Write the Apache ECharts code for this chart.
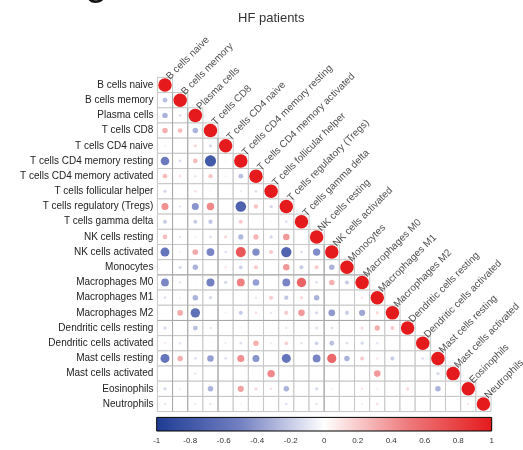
<!DOCTYPE html>
<html><head><meta charset="utf-8">
<script src="https://cdn.jsdelivr.net/npm/echarts@6/dist/echarts.min.js"></script>
<style>html,body{margin:0;padding:0;background:#fff}#c{width:523px;height:450px}</style>
</head><body><div id="c"></div>
<script>
const cellTypes = ["B cells naive","B cells memory","Plasma cells","T cells CD8","T cells CD4 naive",
  "T cells CD4 memory resting","T cells CD4 memory activated","T cells follicular helper",
  "T cells regulatory (Tregs)","T cells gamma delta","NK cells resting","NK cells activated",
  "Monocytes","Macrophages M0","Macrophages M1","Macrophages M2","Dendritic cells resting",
  "Dendritic cells activated","Mast cells resting","Mast cells activated","Eosinophils","Neutrophils"];

const row00 = [1];
const row01 = [-0.25, 1];
const row02 = [-0.3, -0.12, 1];
const row03 = [0.3, 0.25, -0.3, 1];
const row04 = [0.08, 0.03, 0.15, -0.15, 1];
const row05 = [-0.55, -0.12, 0.25, -0.78, -0.05, 1];
const row06 = [0.25, 0.12, -0.1, 0.22, 0.08, -0.25, 1];
const row07 = [-0.15, 0.02, 0.12, -0.05, 0.02, -0.08, -0.12, 1];
const row08 = [0.42, -0.1, -0.42, 0.45, 0.02, -0.72, 0.22, -0.15, 1];
const row09 = [-0.2, 0.02, -0.2, -0.22, 0.02, 0.2, 0.05, -0.05, -0.12, 1];
const row10 = [0.25, -0.1, 0.08, -0.12, 0.15, -0.28, 0.28, -0.15, 0.38, 0.03, 1];
const row11 = [-0.58, 0.08, 0.32, -0.48, -0.12, 0.68, -0.45, 0.2, -0.7, -0.12, -0.45, 1];
const row12 = [0.02, -0.15, -0.3, -0.05, 0.1, -0.18, 0.2, 0.05, 0.38, -0.2, 0.2, -0.3, 1];
const row13 = [-0.48, -0.1, 0.05, -0.5, -0.15, 0.48, -0.38, 0.03, -0.48, 0.62, -0.12, 0.3, -0.2, 1];
const row14 = [-0.12, 0.08, -0.3, -0.15, 0.03, 0.02, -0.1, 0.2, -0.22, 0.15, -0.3, 0.05, 0.05, 0.1, 1];
const row15 = [0.03, 0.32, -0.62, 0.05, 0.08, -0.2, 0.12, -0.1, 0.2, 0.38, -0.15, -0.4, -0.2, -0.35, 0.15, 1];
const row16 = [-0.15, 0.02, -0.25, -0.1, 0.02, 0.05, 0.05, 0.02, -0.1, 0.03, -0.12, -0.12, 0.03, 0.15, 0.3, 0.2, 1];
const row17 = [0.08, -0.1, 0.05, 0.03, -0.08, -0.12, 0.3, -0.08, 0.18, -0.1, -0.18, -0.25, -0.12, -0.15, -0.1, 0.03, 0.05, 1];
const row18 = [-0.58, 0.3, -0.12, -0.38, -0.12, 0.42, -0.42, 0.03, -0.58, -0.05, -0.48, 0.6, -0.3, 0.2, 0.1, -0.2, 0.02, -0.12, 1];
const row19 = [0.05, 0.02, -0.1, 0.02, 0.02, 0.03, -0.05, 0.45, 0.02, 0.02, 0.02, 0.02, 0.05, 0.02, 0.38, 0.02, 0.02, 0.03, -0.15, 1];
const row20 = [-0.15, -0.08, 0.03, -0.3, 0.02, 0.35, 0.15, 0.12, -0.3, 0.02, -0.15, 0.08, 0.05, 0.1, 0.08, 0.03, 0.15, 0.03, -0.3, 0.02, 1];
const row21 = [-0.1, 0.02, -0.08, -0.1, 0.02, -0.05, -0.05, 0.02, -0.12, 0.02, -0.1, 0.05, 0.05, 0.08, 0.12, 0.05, 0.03, 0.02, 0.03, 0.02, 0.1, 1];

// category indices after which a darker separator line is drawn
const colBreaks = [0, 1, 3, 10];
const rowBreaks = [12, 15];

const colorbarMin = -1, colorbarMax = 1, colorbarStep = 0.2;
const titleText = "HF patients";

const rows = [row00,row01,row02,row03,row04,row05,row06,row07,row08,row09,row10,
  row11,row12,row13,row14,row15,row16,row17,row18,row19,row20,row21];

const PALETTE = ['#1e3c94', '#7380c2', '#ffffff', '#ee7a7c', '#e41a1c'];
const N = cellTypes.length;
const corrData = [], cellData = [], diagData = [];
rows.forEach((r, i) => r.forEach((v, j) => {
  corrData.push([j, i, v]);
  cellData.push([j, i]);
  if (i === j) diagData.push({value: [j, i], name: cellTypes[i]});
}));
const breakData = colBreaks.map(c => ['v', c]).concat(rowBreaks.map(r => ['h', r]));

const chart = echarts.init(document.getElementById('c'), null, {renderer: 'canvas'});
chart.setOption({
  animation: false,
  backgroundColor: '#fff',
  textStyle: {fontFamily: 'Liberation Sans, Arial, sans-serif'},
  title: [
    {text: titleText, left: 238, top: 12, padding: 0,
     textStyle: {fontSize: 13, fontWeight: 'normal', color: '#333'}},
    {text: 'G', left: 86, top: -16, padding: 0,
     textStyle: {fontSize: 24, fontWeight: 'bold', color: '#111'}}
  ],
  grid: [
    {left: 157.4, top: 77.4, width: 333.6, height: 334.2},
    {left: 156.7, top: 417.4, width: 335, height: 13.6, show: true,
     borderColor: '#000', borderWidth: 1,
     backgroundColor: new echarts.graphic.LinearGradient(0, 0, 1, 0,
       PALETTE.map((c, k) => ({offset: k / (PALETTE.length - 1), color: c})))}
  ],
  xAxis: [
    {type: 'category', data: cellTypes, gridIndex: 0, show: false},
    {type: 'value', gridIndex: 1, min: colorbarMin, max: colorbarMax, interval: colorbarStep,
     axisLine: {show: false}, axisTick: {show: false}, splitLine: {show: false},
     axisLabel: {fontSize: 8, color: '#333', margin: 6}}
  ],
  yAxis: [
    {type: 'category', data: cellTypes, gridIndex: 0, inverse: true,
     axisLine: {show: false}, axisTick: {show: false}, splitLine: {show: false},
     axisLabel: {fontSize: 10, color: '#222', margin: 4}},
    {type: 'value', gridIndex: 1, show: false}
  ],
  visualMap: {show: false, type: 'continuous', min: colorbarMin, max: colorbarMax,
    dimension: 2, seriesIndex: 2, inRange: {color: PALETTE}},
  series: [
    {type: 'custom', xAxisIndex: 0, yAxisIndex: 0, data: cellData, silent: true, z: 1,
     renderItem: function (params, api) {
       const p = api.coord([api.value(0), api.value(1)]);
       const s = api.size([1, 1]);
       return {type: 'rect', shape: {x: p[0] - s[0] / 2, y: p[1] - s[1] / 2, width: s[0], height: s[1]},
         style: {fill: '#fff', stroke: '#c6c6c6', lineWidth: 1}};
     }},
    {type: 'custom', xAxisIndex: 0, yAxisIndex: 0, data: breakData, silent: true, z: 2,
     renderItem: function (params, api) {
       const kind = breakData[params.dataIndex][0];
       const k = breakData[params.dataIndex][1];
       const s = api.size([1, 1]);
       if (kind === 'v') {
         const a = api.coord([k, k + 1]);
         const b = api.coord([k, N - 1]);
         const x = a[0] + s[0] / 2;
         return {type: 'line', shape: {x1: x, y1: a[1] - s[1] / 2, x2: x, y2: b[1] + s[1] / 2},
           style: {stroke: '#a8a8a8', lineWidth: 1}};
       }
       const a = api.coord([0, k]);
       const b = api.coord([k + 1, k]);
       const y = a[1] + s[1] / 2;
       return {type: 'line', shape: {x1: a[0] - s[0] / 2, y1: y, x2: b[0] + s[0] / 2, y2: y},
         style: {stroke: '#a8a8a8', lineWidth: 1}};
     }},
    {type: 'scatter', xAxisIndex: 0, yAxisIndex: 0, data: corrData, z: 3,
     symbol: 'circle',
     symbolSize: function (v) { return 13.5 * Math.pow(Math.abs(v[2]), 0.75); },
     itemStyle: {opacity: 1}},
    {type: 'scatter', xAxisIndex: 0, yAxisIndex: 0, data: diagData, z: 4,
     symbolSize: 0, silent: true,
     label: {show: true, formatter: '{b}', rotate: 45, position: [3, -7],
       align: 'left', verticalAlign: 'middle', fontSize: 10, color: '#222'}}
  ]
});
</script></body></html>
